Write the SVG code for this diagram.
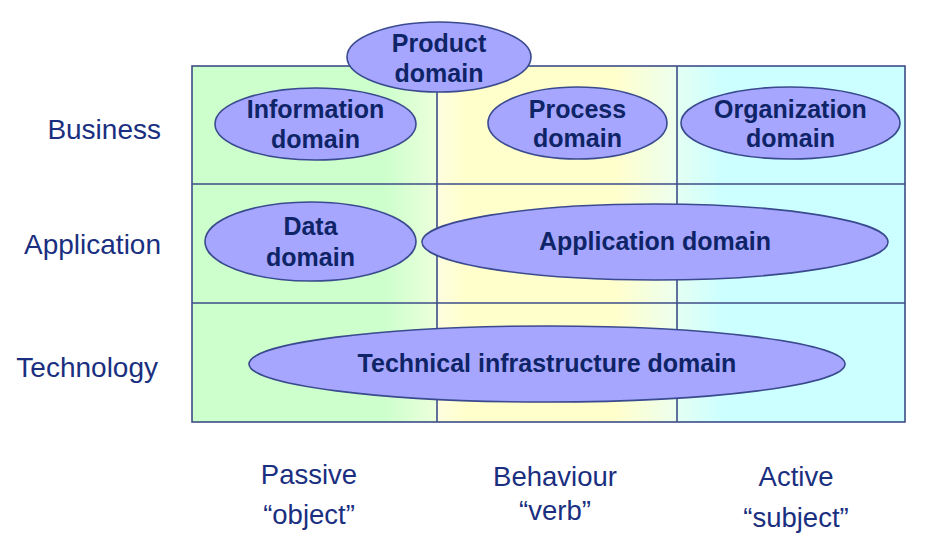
<svg xmlns="http://www.w3.org/2000/svg" width="942" height="552" viewBox="0 0 942 552">
<defs>
<linearGradient id="gGreen" x1="0" y1="0" x2="1" y2="0">
<stop offset="0" stop-color="#ccffcc"/><stop offset="0.78" stop-color="#ccffcc"/><stop offset="1" stop-color="#ecffdc"/>
</linearGradient>
<linearGradient id="gYellow" x1="0" y1="0" x2="1" y2="0">
<stop offset="0" stop-color="#fdfde0"/><stop offset="0.12" stop-color="#ffffcc"/><stop offset="0.74" stop-color="#ffffcc"/><stop offset="1" stop-color="#ecffee"/>
</linearGradient>
<linearGradient id="gCyan" x1="0" y1="0" x2="1" y2="0">
<stop offset="0" stop-color="#e4fff2"/><stop offset="0.2" stop-color="#ccffff"/><stop offset="1" stop-color="#ccffff"/>
</linearGradient>
</defs>
<style>
.grid{stroke:#3d4d88;stroke-width:1.6;fill:none}
.dom{fill:#a6a6ff;stroke:#3a4a8e;stroke-width:1.6}
.dt{font-family:"Liberation Sans",Arial,sans-serif;font-weight:bold;font-size:25px;fill:#0e2466;text-anchor:middle}
.lbl{font-family:"Liberation Sans",Arial,sans-serif;font-size:28px;fill:#1a2f80}
.bl{font-family:"Liberation Sans",Arial,sans-serif;font-size:27.5px;fill:#1a2f80;text-anchor:middle}
</style>
<rect width="942" height="552" fill="#ffffff"/>
<g id="background">
<rect x="192" y="66" width="245" height="356" fill="url(#gGreen)"/>
<rect x="437" y="66" width="240" height="356" fill="url(#gYellow)"/>
<rect x="677" y="66" width="228" height="356" fill="url(#gCyan)"/>
</g>
<g id="grid" class="grid">
<rect x="192" y="66" width="713" height="356"/>
<line x1="192" y1="184" x2="905" y2="184"/>
<line x1="192" y1="303" x2="905" y2="303"/>
<line x1="437" y1="66" x2="437" y2="422"/>
<line x1="677" y1="66" x2="677" y2="422"/>
</g>
<g id="connectors"></g>
<g id="row-labels" class="lbl" text-anchor="end">
<text x="161" y="139">Business</text>
<text x="161" y="254">Application</text>
<text x="158" y="377">Technology</text>
</g>
<g id="column-labels" class="bl">
<text x="309" y="484">Passive</text>
<text x="309" y="524">“object”</text>
<text x="555" y="486">Behaviour</text>
<text x="555" y="520">“verb”</text>
<text x="796" y="486">Active</text>
<text x="796" y="527">“subject”</text>
</g>
<g id="product-domain">
<ellipse class="dom" cx="439" cy="57" rx="92" ry="35"/>
<text class="dt" x="439" y="52">Product</text>
<text class="dt" x="439" y="82">domain</text>
</g>
<g id="information-domain">
<ellipse class="dom" cx="315.5" cy="124" rx="100.5" ry="36"/>
<text class="dt" x="315.5" y="118">Information</text>
<text class="dt" x="315.5" y="148">domain</text>
</g>
<g id="process-domain">
<ellipse class="dom" cx="577.5" cy="123" rx="89.5" ry="36"/>
<text class="dt" x="577.5" y="118">Process</text>
<text class="dt" x="577.5" y="147">domain</text>
</g>
<g id="organization-domain">
<ellipse class="dom" cx="790.5" cy="123" rx="109.5" ry="36"/>
<text class="dt" x="790.5" y="118">Organization</text>
<text class="dt" x="790.5" y="147">domain</text>
</g>
<g id="data-domain">
<ellipse class="dom" cx="310.5" cy="241.5" rx="105.5" ry="39.5"/>
<text class="dt" x="310.5" y="235">Data</text>
<text class="dt" x="310.5" y="266">domain</text>
</g>
<g id="application-domain">
<ellipse class="dom" cx="655" cy="242" rx="233" ry="38"/>
<text class="dt" x="655" y="250">Application domain</text>
</g>
<g id="technical-infrastructure-domain">
<ellipse class="dom" cx="547" cy="364" rx="298" ry="38"/>
<text class="dt" x="547" y="372">Technical infrastructure domain</text>
</g>
</svg>
